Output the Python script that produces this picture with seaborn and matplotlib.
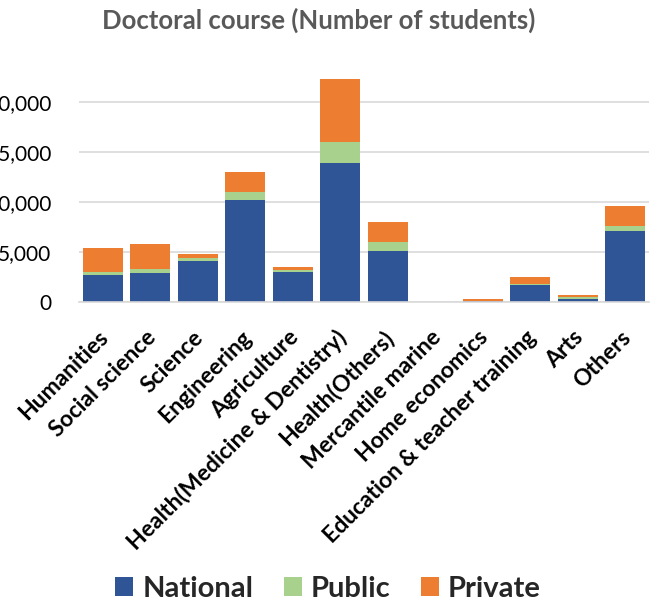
import numpy as np
import pandas as pd
import matplotlib
matplotlib.use("Agg")
import matplotlib.pyplot as plt
import matplotlib.transforms as mtransforms
import seaborn as sns
from matplotlib.patches import Patch

categories = ["Humanities", "Social science", "Science", "Engineering", "Agriculture",
              "Health(Medicine & Dentistry)", "Health(Others)", "Mercantile marine",
              "Home economics", "Education & teacher training", "Arts", "Others"]
national = [2670, 2840, 4070, 10170, 2970, 13900, 5070, 0, 50, 1700, 300, 7100]
public = [300, 400, 300, 770, 170, 2040, 900, 0, 0, 50, 170, 440]
private = [2430, 2500, 400, 2000, 330, 6300, 2000, 0, 220, 690, 230, 2060]
series_names = ["National", "Public", "Private"]
colors = ["#2F5597", "#A9D18E", "#ED7D31"]

sns.set_theme(style="white")
plt.rcParams['font.family'] = ['Lato', 'DejaVu Sans']

df = pd.DataFrame({"cat": categories, "National": national,
                   "Public": public, "Private": private})

fig = plt.figure(figsize=(6.51, 6.04), dpi=100)
ax = fig.add_axes([79/651, 1 - 301.7/604, (649-79)/651, 225/604])

bottom = np.zeros(len(categories))
for name, col in zip(series_names, colors):
    sns.barplot(data=df, x="cat", y=name, color=col, width=0.84,
                bottom=bottom, ax=ax, saturation=1, linewidth=0, order=categories)
    bottom = bottom + df[name].values

ax.set_ylim(0, 22500)
ax.set_xlim(-0.5, len(categories) - 0.5)
ax.set_yticks([0, 5000, 10000, 15000, 20000])
ax.set_yticklabels(["0", "5,000", "10,000", "15,000", "20,000"], fontsize=15, color="#000000")
ax.yaxis.grid(True, color="#d9d9d9", linewidth=1.2)
ax.set_axisbelow(True)
for s in ["top", "right", "left"]:
    ax.spines[s].set_visible(False)
ax.spines["bottom"].set_color("#d9d9d9")
ax.spines["bottom"].set_linewidth(1.2)
ax.tick_params(axis="y", length=0, pad=20)
ax.tick_params(axis="x", length=0, pad=8)
ax.set_xlabel("")
ax.set_ylabel("")
ax.set_xticks(range(len(categories)))
ax.set_xticklabels(categories, rotation=45, ha="right", rotation_mode="anchor",
                   fontsize=16.5, fontweight="bold", color="#000000")
offset = mtransforms.ScaledTranslation(-5/100, -14/100, fig.dpi_scale_trans)
for lab in ax.get_xticklabels():
    lab.set_transform(lab.get_transform() + offset)

fig.text(0.489, 1 - 20/604, "Doctoral course (Number of students)", ha="center", va="center",
         fontsize=18.5, fontweight="bold", color="#595959")

handles = [Patch(facecolor=c, edgecolor="none", label=n) for n, c in zip(series_names, colors)]
fig.legend(handles=handles, loc="center", bbox_to_anchor=(0.504, 1 - 589/604), ncol=3,
           frameon=False, prop={"size": 21, "weight": "bold"}, handlelength=0.62,
           handleheight=0.62, handletextpad=0.3, columnspacing=1.05, borderpad=0)

fig.savefig("out.png", dpi=100)
